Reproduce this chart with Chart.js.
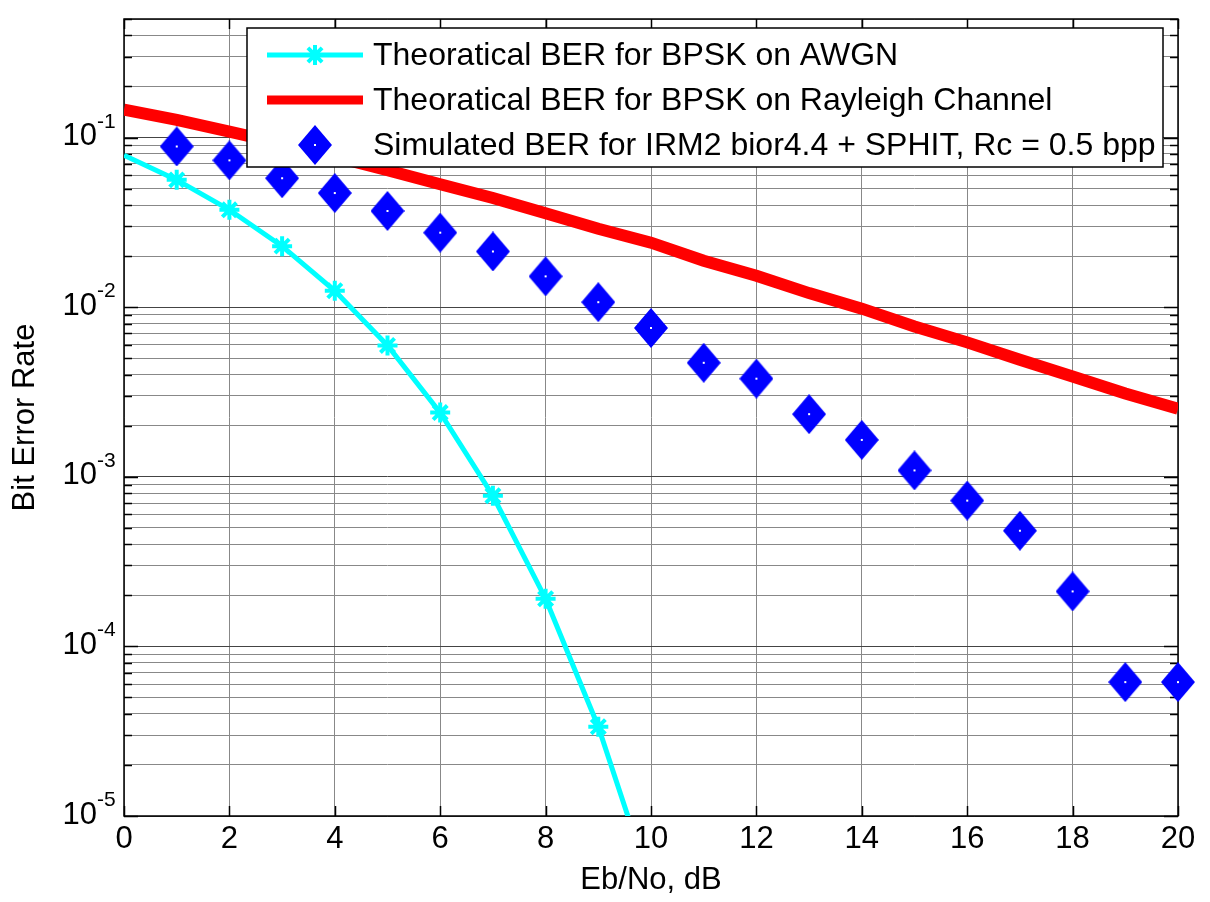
<!DOCTYPE html>
<html>
<head>
<meta charset="utf-8">
<script src="https://cdn.jsdelivr.net/npm/chart.js@4/dist/chart.umd.min.js"></script>
<style>
  html, body { margin: 0; padding: 0; background: #fff; }
  #wrap { width: 1210px; height: 902px; position: relative; }
</style>
</head>
<body>
<div id="wrap"><canvas id="c"></canvas></div>
<script>
// Eb/No points (dB)
const snrAwgn = [0, 1, 2, 3, 4, 5, 6, 7, 8, 9, 10];
const snrRayleigh = [0, 1, 2, 3, 4, 5, 6, 7, 8, 9, 10, 11, 12, 13, 14, 15, 16, 17, 18, 19, 20];
const snrSim = [1, 2, 3, 4, 5, 6, 7, 8, 9, 10, 11, 12, 13, 14, 15, 16, 17, 18, 19, 20];

// BER values
const berAwgn = [0.0786, 0.0563, 0.0375, 0.0229, 0.0125, 0.00595, 0.00239, 0.000773, 0.000191, 3.36e-5, 3.87e-6];
const berRayleigh = [0.146, 0.127, 0.1085, 0.092, 0.0771, 0.0642, 0.053, 0.044, 0.0358, 0.029, 0.0240,
  0.0188, 0.0153, 0.0121, 0.0098, 0.0077, 0.0062, 0.0049, 0.0039, 0.0031, 0.00252];
const berSim = [0.0886, 0.0734, 0.0576, 0.0471, 0.0369, 0.0275, 0.0213, 0.0152, 0.0107, 0.00754,
  0.00470, 0.00379, 0.00234, 0.00165, 0.00109, 0.000724, 0.000481, 0.000211, 6.16e-5, 6.16e-5];

const seriesLabels = [
  'Theoratical BER for BPSK on AWGN',
  'Theoratical BER for BPSK on Rayleigh Channel',
  'Simulated BER for IRM2 bior4.4 + SPHIT, Rc = 0.5 bpp'
];

// y axis: decades shown with 10^n labels
const yDecades = [-5, -4, -3, -2, -1];
const yMin = 1e-5;
const yMax = 0.5;

const FONT = "'Liberation Sans', Arial, sans-serif";

// blue diamond marker like matlab 'd'
function makeDiamond(w, h) {
  const c = document.createElement('canvas');
  c.width = w;
  c.height = h;
  const g = c.getContext('2d');
  g.fillStyle = '#0000ff';
  g.beginPath();
  g.moveTo(w / 2, 0);
  g.lineTo(w, h / 2);
  g.lineTo(w / 2, h);
  g.lineTo(0, h / 2);
  g.closePath();
  g.fill();
  g.fillStyle = '#ffffff';
  g.fillRect(w / 2 - 1, h / 2 - 1, 2, 2);
  return c;
}
const diamond = makeDiamond(34, 40);

function toPoints(xs, ys) {
  return xs.map((x, i) => ({ x, y: ys[i] }));
}

function isDecade(v) {
  const l = Math.log10(v);
  return Math.abs(l - Math.round(l)) < 1e-9;
}

// axes box, inner tick marks, y labels and legend
const matlabAxes = {
  id: 'matlabAxes',
  beforeDatasetsDraw(chart) {
    const { ctx, chartArea: a, scales } = chart;
    ctx.save();
    ctx.strokeStyle = '#000';
    ctx.lineWidth = 1.5;
    ctx.strokeRect(a.left, a.top, a.right - a.left, a.bottom - a.top);
    ctx.beginPath();
    scales.x.ticks.forEach(t => {
      const px = Math.round(scales.x.getPixelForValue(t.value)) + 0.5;
      ctx.moveTo(px, a.bottom); ctx.lineTo(px, a.bottom - 10);
      ctx.moveTo(px, a.top); ctx.lineTo(px, a.top + 10);
    });
    scales.y.ticks.forEach(t => {
      const py = Math.round(scales.y.getPixelForValue(t.value)) + 0.5;
      const len = isDecade(t.value) ? 14 : 8;
      ctx.moveTo(a.left, py); ctx.lineTo(a.left + len, py);
      ctx.moveTo(a.right, py); ctx.lineTo(a.right - len, py);
    });
    ctx.stroke();
    ctx.restore();
  },
  afterDatasetsDraw(chart) {
    const ctx = chart.ctx;
    const ds = chart.data.datasets;
    const bx = 247, by = 28, bw = 916, bh = 139;
    ctx.save();
    ctx.fillStyle = '#fff';
    ctx.fillRect(bx, by, bw, bh);
    ctx.strokeStyle = '#000';
    ctx.lineWidth = 1.5;
    ctx.strokeRect(bx, by, bw, bh);

    const rows = [55, 100, 145];
    const x0 = 267, x1 = 363, xm = 315;
    // row 1: cyan line + star
    ctx.strokeStyle = ds[0].borderColor;
    ctx.lineWidth = 5;
    ctx.beginPath(); ctx.moveTo(x0, rows[0]); ctx.lineTo(x1, rows[0]); ctx.stroke();
    ctx.fillStyle = ds[0].borderColor;
    ctx.lineWidth = 4;
    Chart.helpers.drawPoint(ctx, { pointStyle: 'star', radius: 10, borderWidth: 4, rotation: 0 }, xm, rows[0]);
    // row 2: thick red line
    ctx.strokeStyle = ds[1].borderColor;
    ctx.lineWidth = 9;
    ctx.beginPath(); ctx.moveTo(x0, rows[1]); ctx.lineTo(x1, rows[1]); ctx.stroke();
    // row 3: diamond
    ctx.drawImage(diamond, xm - diamond.width / 2, rows[2] - diamond.height / 2);

    ctx.fillStyle = '#000';
    ctx.font = '32px ' + FONT;
    ctx.textAlign = 'left';
    ctx.textBaseline = 'middle';
    ds.forEach((d, i) => ctx.fillText(d.label, 373, rows[i] + 1));
    ctx.restore();
  },
  afterDraw(chart) {
    const { ctx, scales } = chart;
    const y = scales.y;
    ctx.save();
    ctx.fillStyle = '#000';
    yDecades.forEach(e => {
      const py = y.getPixelForValue(Math.pow(10, e));
      ctx.font = '31px ' + FONT;
      ctx.textAlign = 'right';
      ctx.textBaseline = 'middle';
      ctx.fillText('10', 97, py - 1);
      ctx.font = '21px ' + FONT;
      ctx.textAlign = 'left';
      ctx.textBaseline = 'alphabetic';
      ctx.fillText('-' + Math.abs(e), 97, py - 10);
    });
    ctx.restore();
  }
};

const gridStyle = {
  color: ctx => (ctx.tick && isDecade(ctx.tick.value) && ctx.scale.axis === 'y') ? '#444' : '#888',
  lineWidth: 1,
  borderDash: [1, 1],
  drawTicks: false
};

new Chart(document.getElementById('c'), {
  type: 'line',
  data: {
    datasets: [
      {
        label: seriesLabels[0],
        data: toPoints(snrAwgn, berAwgn),
        borderColor: '#00ffff',
        backgroundColor: '#00ffff',
        borderWidth: 5,
        pointStyle: 'star',
        pointRadius: ctx => (ctx.dataIndex === 0 ? 0 : 10),
        pointBorderWidth: 4,
        tension: 0,
        order: 2
      },
      {
        label: seriesLabels[1],
        data: toPoints(snrRayleigh, berRayleigh),
        borderColor: '#ff0000',
        backgroundColor: '#ff0000',
        borderWidth: 12,
        pointRadius: 0,
        tension: 0,
        order: 1
      },
      {
        label: seriesLabels[2],
        data: toPoints(snrSim, berSim),
        borderColor: '#0000ff',
        backgroundColor: '#0000ff',
        showLine: false,
        pointStyle: diamond,
        pointRadius: 18,
        clip: false,
        order: 0
      }
    ]
  },
  options: {
    responsive: true,
    maintainAspectRatio: false,
    animation: false,
    events: [],
    layout: { padding: { top: 13, right: 32, left: 0, bottom: 0 } },
    plugins: { legend: { display: false }, tooltip: { enabled: false } },
    scales: {
      x: {
        type: 'linear',
        min: 0,
        max: 20,
        ticks: { stepSize: 2, color: '#000', font: { family: FONT, size: 31 }, padding: 5, maxRotation: 0 },
        grid: gridStyle,
        border: { display: false },
        title: { display: true, text: 'Eb/No, dB', color: '#000', font: { family: FONT, size: 31 }, padding: { top: 0, bottom: 3 } },
        afterFit: s => { s.height = 86; }
      },
      y: {
        type: 'logarithmic',
        min: yMin,
        max: yMax,
        ticks: { display: false },
        grid: gridStyle,
        border: { display: false },
        title: { display: true, text: 'Bit Error Rate', color: '#000', font: { family: FONT, size: 31 }, padding: { top: 7, bottom: 0 } },
        afterBuildTicks: s => {
          const ticks = [];
          for (let e = -5; e <= -1; e++) {
            for (let m = 1; m <= 9; m++) {
              const v = m * Math.pow(10, e);
              if (v >= yMin - 1e-12 && v <= yMax + 1e-12) ticks.push({ value: v, major: m === 1 });
            }
          }
          s.ticks = ticks;
        },
        afterFit: s => { s.width = 124; }
      }
    }
  },
  plugins: [matlabAxes]
});
</script>
</body>
</html>
